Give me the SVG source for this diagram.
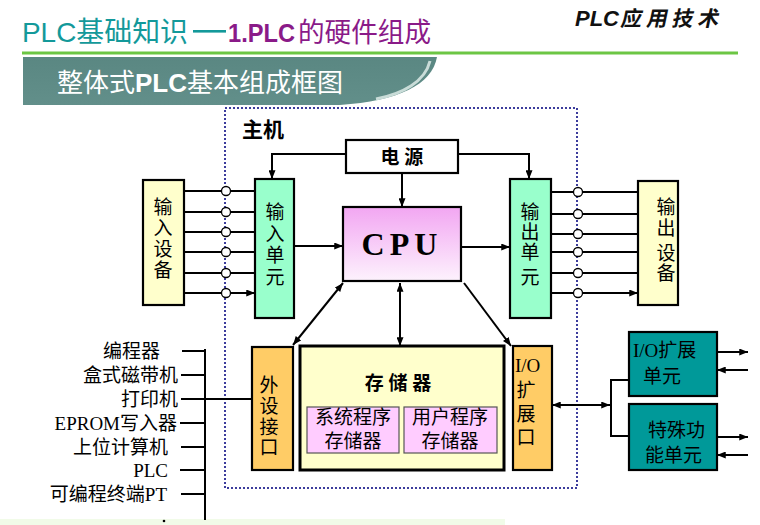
<svg xmlns="http://www.w3.org/2000/svg" width="760" height="525" viewBox="0 0 760 525">
<style>
.box{stroke:#000;stroke-width:2.2}
.ln{stroke:#000;stroke-width:2;fill:none}
.t{font-family:"Liberation Serif","Noto Sans CJK SC",serif;font-size:19px;fill:#000}
.tc{font-family:"Liberation Serif","Noto Sans CJK SC",serif;font-size:19px;fill:#000;text-anchor:middle}
.circ{fill:#fff;stroke:#000;stroke-width:1.3}
</style>
<defs>
<marker id="ah" viewBox="0 0 10 8" refX="10" refY="4" markerWidth="9" markerHeight="7" markerUnits="userSpaceOnUse" orient="auto-start-reverse">
<path d="M0,0 L10,4 L0,8 z" fill="#000"/>
</marker>
<linearGradient id="cpuG" x1="0" y1="0" x2="0" y2="1">
<stop offset="0" stop-color="#f2a6f2"/>
<stop offset="1" stop-color="#fdf2fd"/>
</linearGradient>
<linearGradient id="bandG" x1="0" y1="0" x2="0" y2="1">
<stop offset="0" stop-color="#5a8782"/>
<stop offset="1" stop-color="#628f8a"/>
</linearGradient>
</defs>
<rect width="760" height="525" fill="#fff"/>
<rect x="0" y="519" width="505" height="6" fill="#f1fbe8"/>

<!-- header -->
<g id="header">
<text x="22" y="42" font-family="Noto Sans CJK SC,sans-serif" font-size="28" fill="#13999a" textLength="166" lengthAdjust="spacingAndGlyphs"><tspan font-family="Liberation Sans,sans-serif">PLC</tspan>基础知识</text>
<rect x="193" y="30" width="33" height="2.6" fill="#13999a"/>
<text x="228" y="42" font-family="Liberation Sans,sans-serif" font-weight="bold" font-size="26" fill="#8a1a88" textLength="67" lengthAdjust="spacingAndGlyphs">1.PLC</text>
<text x="298" y="42" font-family="Noto Sans CJK SC,sans-serif" font-size="27" fill="#8a1a88" textLength="133" lengthAdjust="spacingAndGlyphs">的硬件组成</text>
<text x="575" y="26" font-family="Liberation Sans,sans-serif" font-weight="bold" font-style="italic" font-size="22" fill="#111">PLC</text>
<text x="620" y="26" font-family="Noto Sans CJK SC,sans-serif" font-weight="bold" font-size="21" fill="#111" transform="skewX(-12) translate(5.5,0)" textLength="98" lengthAdjust="spacing">应用技术</text>
<rect x="22" y="51.5" width="716" height="3" fill="#6cc644"/>
<path d="M23,57 L437,57 C432,85 398,101 340,105 L23,105 Z" fill="url(#bandG)"/>
<path d="M430,61 C425,82 402,94 376,99" stroke="#c9dcd8" stroke-width="3" fill="none"/>
<text x="57" y="92" font-family="Noto Sans CJK SC,sans-serif" font-size="26" fill="#fff">整体式<tspan font-family="Liberation Sans,sans-serif" font-weight="bold">PLC</tspan>基本组成框图</text>
</g>

<!-- main frame -->
<g id="host">
<rect x="225" y="108" width="352" height="380" fill="none" stroke="#3c3c9c" stroke-width="2" stroke-dasharray="2,2"/>
<text x="242" y="137" font-family="Noto Sans CJK SC,sans-serif" font-size="21" font-weight="bold" fill="#000">主机</text>
</g>

<g id="power">
<rect class="box" x="346" y="140" width="112" height="33" fill="#fff"/>
<text class="tc" x="402" y="164" font-weight="bold" font-size="18">电 源</text>
</g>

<g id="cpu">
<rect class="box" x="343" y="207" width="118" height="74" fill="url(#cpuG)"/>
<text x="402" y="255" font-family="Liberation Serif,serif" font-weight="bold" font-size="32" text-anchor="middle" letter-spacing="5">CPU</text>
</g>

<g id="input-device">
<rect class="box" x="143" y="180" width="41" height="125" fill="#ffffcc" stroke-width="1.5"/>
<text class="tc" x="163"><tspan x="163" y="214">输</tspan><tspan x="163" y="235">入</tspan><tspan x="163" y="256">设</tspan><tspan x="163" y="277">备</tspan></text>
</g>

<g id="input-unit">
<rect class="box" x="255" y="179" width="39" height="139" fill="#99ffcc" stroke-width="2.5"/>
<text class="tc" x="275"><tspan x="275" y="219">输</tspan><tspan x="275" y="241">入</tspan><tspan x="275" y="262">单</tspan><tspan x="275" y="284">元</tspan></text>
</g>

<g id="output-unit">
<rect class="box" x="510" y="179" width="41" height="139" fill="#99ffcc" stroke-width="2.5"/>
<text class="tc" x="530"><tspan x="530" y="219">输</tspan><tspan x="530" y="239">出</tspan><tspan x="530" y="259">单</tspan><tspan x="530" y="284">元</tspan></text>
</g>

<g id="output-device">
<rect class="box" x="638" y="181" width="40" height="124" fill="#ffffcc" stroke-width="1.5"/>
<text class="tc" x="666"><tspan x="666" y="214">输</tspan><tspan x="666" y="235">出</tspan><tspan x="666" y="260">设</tspan><tspan x="666" y="280">备</tspan></text>
</g>

<g id="peripheral-interface">
<rect class="box" x="252" y="347" width="41" height="123" fill="#ffcc66" stroke-width="2.5"/>
<text class="tc" x="269"><tspan x="269" y="392">外</tspan><tspan x="269" y="413">设</tspan><tspan x="269" y="434">接</tspan><tspan x="269" y="454">口</tspan></text>
</g>

<g id="memory">
<rect x="300" y="346" width="204" height="124" fill="#ffffcc" stroke="#000" stroke-width="3"/>
<text class="tc" x="398" y="390" font-size="22" font-weight="bold">存 储 器</text>
<rect x="307" y="407" width="92" height="46" fill="#ffccff" stroke="#555" stroke-width="1.2"/>
<text class="tc" x="353" y="424" font-size="17">系统程序</text>
<text class="tc" x="353" y="448" font-size="17">存储器</text>
<rect x="404" y="407" width="93" height="46" fill="#ffccff" stroke="#555" stroke-width="1.2"/>
<text class="tc" x="450" y="424" font-size="17">用户程序</text>
<text class="tc" x="450" y="448" font-size="17">存储器</text>
</g>

<g id="io-port">
<rect class="box" x="513" y="346" width="39" height="124" fill="#ffcc66" stroke-width="1.5"/>
<text class="t" x="515" y="372">I/O</text>
<text class="tc" x="526"><tspan x="526" y="397">扩</tspan><tspan x="526" y="421">展</tspan><tspan x="526" y="444">口</tspan></text>
</g>

<g id="io-expansion">
<rect class="box" x="629" y="332" width="88" height="64" fill="#009999" stroke-width="2.5"/>
<text class="t" x="633" y="357">I/O扩展</text>
<text class="t" x="643" y="383">单元</text>
</g>

<g id="special-unit">
<rect class="box" x="629" y="404" width="88" height="66" fill="#009999" stroke-width="2.5"/>
<text class="t" x="648" y="437">特殊功</text>
<text class="t" x="645" y="462">能单元</text>
</g>

<g id="peripherals">
<text class="t" x="160" y="358" text-anchor="end">编程器</text>
<text class="t" x="178" y="382" text-anchor="end">盒式磁带机</text>
<text class="t" x="178" y="406" text-anchor="end">打印机</text>
<text class="t" x="177" y="430" text-anchor="end">EPROM写入器</text>
<text class="t" x="168" y="454" text-anchor="end">上位计算机</text>
<text class="t" x="168" y="477" text-anchor="end">PLC</text>
<text class="t" x="167" y="501" text-anchor="end">可编程终端PT</text>
<circle cx="164" cy="521" r="1.3" fill="#000"/>
</g>

<g id="connectors">
<path class="ln" marker-end="url(#ah)" d="M184,191 H255 M184,212 H255 M184,232 H255 M184,252 H255 M184,273 H255 M184,293 H255"/>
<circle class="circ" cx="226" cy="191" r="4.5"/>
<circle class="circ" cx="226" cy="212" r="4.5"/>
<circle class="circ" cx="226" cy="232" r="4.5"/>
<circle class="circ" cx="226" cy="252" r="4.5"/>
<circle class="circ" cx="226" cy="273" r="4.5"/>
<circle class="circ" cx="226" cy="293" r="4.5"/>
<path class="ln" marker-end="url(#ah)" d="M551,192 H638 M551,214 H638 M551,234 H638 M551,252 H638 M551,273 H638 M551,293 H638"/>
<circle class="circ" cx="578" cy="192" r="4.5"/>
<circle class="circ" cx="578" cy="214" r="4.5"/>
<circle class="circ" cx="578" cy="234" r="4.5"/>
<circle class="circ" cx="578" cy="252" r="4.5"/>
<circle class="circ" cx="578" cy="273" r="4.5"/>
<circle class="circ" cx="578" cy="293" r="4.5"/>
<path class="ln" marker-end="url(#ah)" d="M346,154 H272 V179"/>
<path class="ln" marker-end="url(#ah)" d="M458,154 H529 V179"/>
<path class="ln" marker-end="url(#ah)" d="M402,173 V207"/>
<path class="ln" marker-end="url(#ah)" d="M294,246 H343"/>
<path class="ln" marker-end="url(#ah)" d="M461,247 H510"/>
<path class="ln" marker-start="url(#ah)" marker-end="url(#ah)" d="M400,283 V346"/>
<path class="ln" marker-start="url(#ah)" marker-end="url(#ah)" d="M343,283 L293,345"/>
<path class="ln" marker-end="url(#ah)" d="M464,283 L511,346"/>
<path class="ln" marker-start="url(#ah)" marker-end="url(#ah)" d="M552,405 H610"/>
<path class="ln" stroke-width="2.5" d="M629,380 H611 V436 H629"/>
<path class="ln" marker-end="url(#ah)" d="M717,352 H748"/>
<path class="ln" marker-end="url(#ah)" d="M748,370 H717"/>
<path class="ln" marker-end="url(#ah)" d="M717,437 H748"/>
<path class="ln" marker-end="url(#ah)" d="M748,455 H717"/>
<path class="ln" stroke-width="2.5" d="M205,349 V520"/>
<path class="ln" d="M182,351 H205 M181,375 H205 M181,399 H252 M180,423 H205 M181,447 H205 M180,470 H205 M181,494 H205"/>
</g>
</svg>
